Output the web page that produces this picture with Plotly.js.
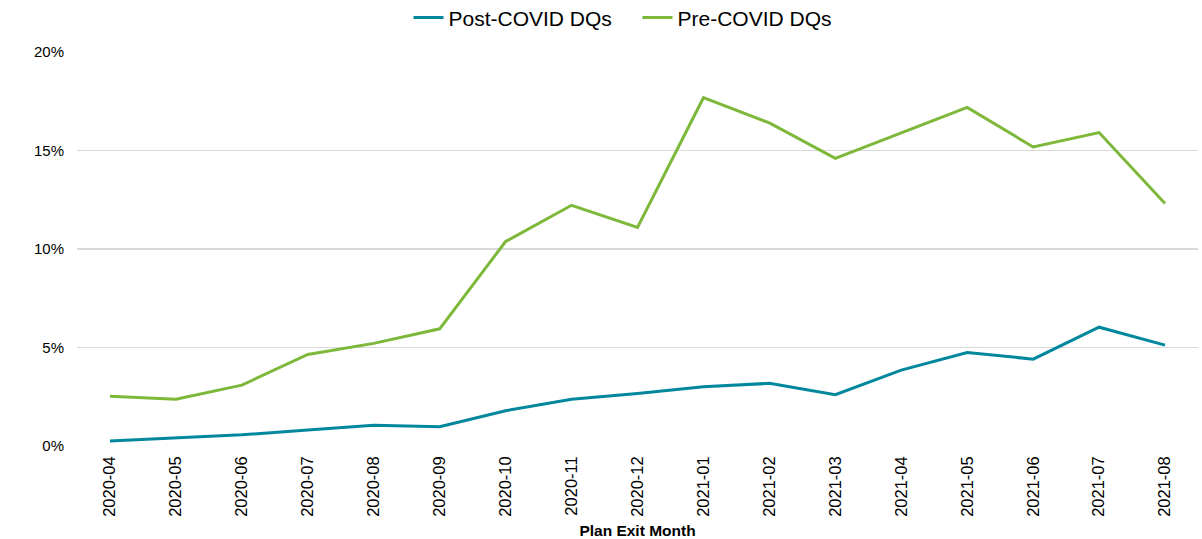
<!DOCTYPE html>
<html>
<head>
<meta charset="utf-8">
<script src="https://cdn.plot.ly/plotly-3.0.1.min.js"></script>
<style>html,body{margin:0;padding:0;background:#fff;}#chart{width:1202px;height:539px;}</style>
</head>
<body>
<div id="chart"></div>
<script>
const months = ["2020-04","2020-05","2020-06","2020-07","2020-08","2020-09","2020-10","2020-11","2020-12","2021-01","2021-02","2021-03","2021-04","2021-05","2021-06","2021-07","2021-08"];
const postCovid = [0.0025,0.0042,0.0057,0.0081,0.0105,0.0098,0.0179,0.0237,0.0267,0.0301,0.0318,0.0260,0.0385,0.0475,0.0441,0.0603,0.0512];
const preCovid = [0.0252,0.0237,0.0309,0.0465,0.0521,0.0595,0.1038,0.1222,0.1109,0.1768,0.1640,0.1460,0.1589,0.1719,0.1518,0.1591,0.1231];
const yTicks = [0,0.05,0.10,0.15,0.20];
const yTickText = ["0%","5%","10%","15%","20%"];

const font = "Liberation Sans, Arial, sans-serif";
const traces = [
  {x: months, y: postCovid, name: "Post-COVID DQs", type: "scatter", mode: "lines",
   line: {color: "#00879c", width: 3}},
  {x: months, y: preCovid, name: "Pre-COVID DQs", type: "scatter", mode: "lines",
   line: {color: "#7db83b", width: 3}}
];
const layout = {
  width: 1202, height: 539,
  margin: {l: 77, r: 4, t: 52, b: 93},
  paper_bgcolor: "#fff", plot_bgcolor: "#fff",
  font: {family: font, color: "#000"},
  showlegend: true,
  legend: {orientation: "h", x: 0.5, xanchor: "center", y: 0.967, yanchor: "middle", yref: "container",
           font: {size: 21, family: font, color: "#000"}, itemwidth: 30, entrywidth: 184, tracegroupgap: 0, bgcolor: "rgba(0,0,0,0)"},
  xaxis: {type: "category", categoryarray: months, range: [-0.5, 16.5],
          tickangle: -90, tickfont: {size: 16.5, family: font, color: "#000"},
          showgrid: false, zeroline: false, showline: false, ticks: "", ticklabelstandoff: 6,
          title: {text: "<b>Plan Exit Month</b>", font: {size: 15.5, family: font, color: "#000"}, standoff: 10}},
  yaxis: {range: [0, 0.2], tickvals: yTicks, ticktext: yTickText,
          tickfont: {size: 15, family: font, color: "#000"},
          gridcolor: "#d9d9d9", gridwidth: 1.5, zeroline: false, showline: false, ticks: "", ticklabelstandoff: 12}
};
Plotly.newPlot("chart", traces, layout, {displayModeBar: false, staticPlot: true});
</script>
</body>
</html>
